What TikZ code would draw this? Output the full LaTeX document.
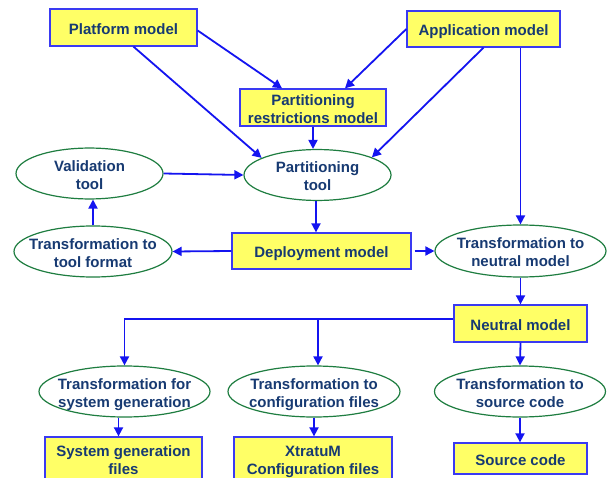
\documentclass[tikz,border=0pt]{standalone}
\usepackage{fontspec}
\setmainfont{Liberation Sans}
\usetikzlibrary{shapes.geometric,arrows.meta}
\definecolor{boxfill}{HTML}{FFFF66}
\definecolor{boxline}{HTML}{3A3AF2}
\definecolor{ovalline}{HTML}{1E7D40}
\definecolor{arrowblue}{HTML}{1414F0}
\definecolor{labelnavy}{HTML}{173A72}
% centred label whose width does not enlarge the shape around it,
% set a little below the shape's centre
\newcommand\lbl[1]{\makebox[0pt]{\raisebox{-3pt}[\height][\depth]{\begin{tabular}{@{}c@{}}#1\end{tabular}}}}

\begin{document}
\begin{tikzpicture}[x=1pt,y=-1pt,
  every node/.style={font=\fontsize{15}{18}\selectfont\bfseries, text=labelnavy, inner sep=0pt},
  model/.style={rectangle, draw=boxline, fill=boxfill, line width=1.3pt},
  tool/.style={ellipse, draw=ovalline, fill=white, line width=1.2pt},
  arr/.style={draw=arrowblue, line width=1.8pt, -{Triangle[length=9pt,width=9pt]}},
]
\useasboundingbox (0,0) rectangle (607,478);
\fill[white] (0,0) rectangle (607,478);

% models
\node[model, minimum width=147pt, minimum height=37pt] (plat) at (123.5,27.5) {\lbl{Platform model}};
\node[model, minimum width=153pt, minimum height=36pt] (app)  at (483.5,29)   {\lbl{Application model}};
\node[model, minimum width=146pt, minimum height=37pt] (prm)  at (313,107.5)  {\lbl{Partitioning\\restrictions model}};
\node[model, minimum width=179pt, minimum height=36pt] (dep)  at (321.5,251)  {\lbl{Deployment model}};
\node[model, minimum width=133pt, minimum height=37pt] (neu)  at (520.5,323.5) {\lbl{Neutral model}};
\node[model, minimum width=157pt, minimum height=44pt] (sgf)  at (123.5,459) {\lbl{System generation\\files}};
\node[model, minimum width=158pt, minimum height=44pt] (xtr)  at (313,459)  {\lbl{XtratuM\\Configuration files}};
\node[model, minimum width=133pt, minimum height=31pt] (sc)   at (520.5,458.5) {\lbl{Source code}};

% tools
\node[tool, minimum width=147pt, minimum height=43pt] (val) at (89.5,173.5) {\lbl{Validation\\tool}};
\node[tool, minimum width=147pt, minimum height=44pt] (pt)  at (317.5,175)  {\lbl{Partitioning\\tool}};
\node[tool, minimum width=158pt, minimum height=51pt] (ttf) at (93,251.5)   {\lbl{Transformation to\\tool format}};
\node[tool, minimum width=171pt, minimum height=52pt] (tnm) at (520.5,251)  {\lbl{Transformation to\\neutral model}};
\node[tool, minimum width=171pt, minimum height=51pt] (tsg) at (124.5,391.5) {\lbl{Transformation for\\system generation}};
\node[tool, minimum width=172pt, minimum height=51pt] (tcf) at (314,391.5)  {\lbl{Transformation to\\configuration files}};
\node[tool, minimum width=171pt, minimum height=51pt] (tsc) at (520,391.5)  {\lbl{Transformation to\\source code}};

% connectors
\draw[arr] ([yshift=-3]plat.east) -- ([xshift=-31]prm.north);
\draw[arr] ([xshift=10]plat.south) -- (pt.163);
\draw[arr] (app.west) -- ([xshift=32]prm.north);
\draw[arr] (app.south) -- (pt.18);
\draw[arr] (tnm.north |- app.south) -- (tnm.north);
\draw[arr] (prm.south) -- (prm.south |- pt.north);
\draw[arr] (val.east) -- (pt.west);
\draw[arr] ([xshift=-1.5]pt.south) -- ([xshift=-1.5]pt.south |- dep.north);
\draw[arr] (dep.west) -- (ttf.east);
\draw[arr] (ttf.north) -- (ttf.north |- val.south);
\draw[arr, shorten <=3pt] (dep.east) -- (tnm.west);
\draw[arr] (tnm.south) -- (neu.north);
\coordinate (br) at ([yshift=4.5]neu.west);
\draw[arr] (br) -| (tsg.north);
\draw[arr] ([xshift=4]tcf.north |- br) -- ([xshift=4]tcf.north);
\draw[arr] (neu.south) -- (tsc.north);
\draw[arr] ([xshift=-6]tsg.south) -- ([xshift=-6]tsg.south |- sgf.north);
\draw[arr] (tcf.south) -- (tcf.south |- xtr.north);
\draw[arr] (tsc.south) -- (tsc.south |- sc.north);
\end{tikzpicture}
\end{document}
